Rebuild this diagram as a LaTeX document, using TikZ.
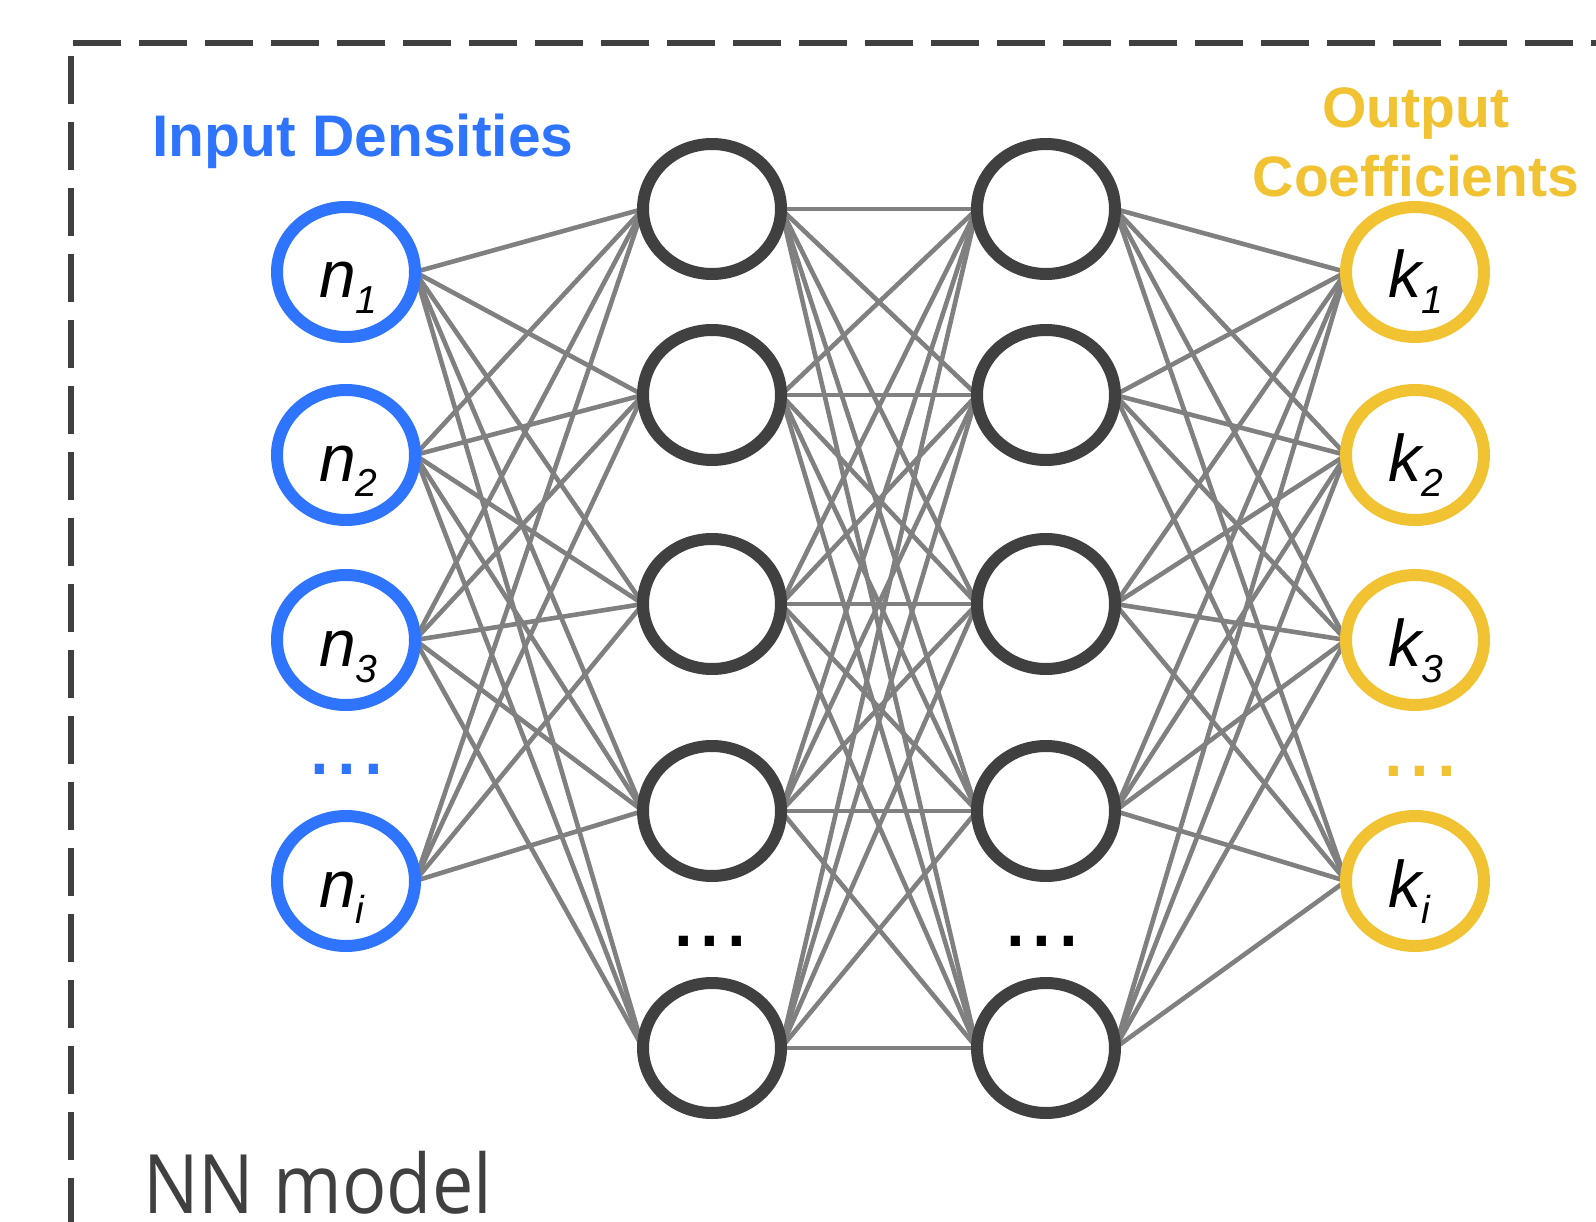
\documentclass[tikz,border=0pt]{standalone}
\usepackage{fontspec}
\usepackage{graphicx}
\setmainfont{Liberation Sans}
\newfontfamily\nnfont{Open Sans}
\usetikzlibrary{shapes.geometric,backgrounds,calc}
\definecolor{inblue}{HTML}{2F74FF}
\definecolor{outyel}{HTML}{F1C232}
\definecolor{dk}{HTML}{404040}
\definecolor{ln}{HTML}{808080}
\newcommand\nodelab[2]{{\fontsize{66}{66}\selectfont\itshape #1}\raisebox{-16pt}{\fontsize{39}{39}\selectfont\itshape #2}}
\begin{document}
\begin{tikzpicture}[x=1pt,y=-1pt,
  neuron/.style={ellipse, minimum width=138pt, minimum height=130pt, inner sep=0pt, outer sep=0pt, line width=12pt, fill=white},
  inneuron/.style={neuron, draw=inblue},
  hidneuron/.style={neuron, draw=dk},
  outneuron/.style={neuron, draw=outyel},
  conn/.style={draw=ln, line width=4.6pt},
  lab/.style={anchor=base west, inner sep=0pt, outer sep=0pt},
  dotsnode/.style={anchor=base, inner sep=0pt, font=\fontsize{96}{96}\selectfont},
  frame/.style={draw=dk, line width=6pt, dash pattern=on 48pt off 18pt}
]
\useasboundingbox (0,0) rectangle (1596,1222);

% neurons
\foreach \y [count=\k] in {272,455,640,881}
  \node[inneuron] (i\k) at (346,\y) {};
\foreach \y [count=\k] in {209,395,604,811,1048} {
  \node[hidneuron] (a\k) at (712,\y) {};
  \node[hidneuron] (b\k) at (1046,\y) {};
}
\foreach \y [count=\k] in {272,455,640,881}
  \node[outneuron] (o\k) at (1415,\y) {};

% labels inside neurons
\foreach \k/\s in {1/1,2/2,3/3,4/i} {
  \node[lab] (il\k) at ($(i\k)+(-27,26)$) {\nodelab{n}{\s}};
  \node[lab] (ol\k) at ($(o\k)+(-27,26)$) {\nodelab{k}{\s}};
}

% connections
\begin{scope}[on background layer]
  \fill[white] (0,0) rectangle (1596,1222);
  \foreach \i in {1,2,3}
    \foreach \j in {1,...,5}
      \draw[conn] (i\i.east) -- (a\j.west);
  \foreach \j in {1,...,4}
    \draw[conn] (i4.east) -- (a\j.west);
  \foreach \i in {1,...,5}
    \foreach \j in {1,...,5}
      \draw[conn] (a\i.east) -- (b\j.west);
  \foreach \i in {1,...,5}
    \foreach \j in {1,...,4}
      \draw[conn] (b\i.east) -- (o\j.west);
\end{scope}

% dots
\node[dotsnode, text=inblue] (idots) at (347,774) {...};
\node[dotsnode, text=black] (adots) at (710,946) {...};
\node[dotsnode, text=black] (bdots) at (1042,946) {...};
\node[dotsnode, text=outyel] (odots) at (1420,776) {...};

% titles
\node[anchor=base, inner sep=0pt, text=inblue, font=\bfseries\fontsize{58.7}{60}\selectfont] (intitle) at (363,157) {Input Densities};
\node[anchor=base, inner sep=0pt, text=outyel, font=\bfseries\fontsize{57}{60}\selectfont] (outtitle1) at (1416,128) {Output};
\node[anchor=base, inner sep=0pt, text=outyel, font=\bfseries\fontsize{57}{60}\selectfont] (outtitle2) at (1416,197) {Coefficients};

% frame
\draw[frame] (73,43) -- (1660,43);
\draw[frame] (71,56) -- (71,1290);
\node[anchor=base west, inner sep=0pt, text=dk, font=\nnfont\fontsize{82}{82}\selectfont] (nnlabel) at (143,1213) {\scalebox{0.9}[1]{NN model}};
\end{tikzpicture}
\end{document}
